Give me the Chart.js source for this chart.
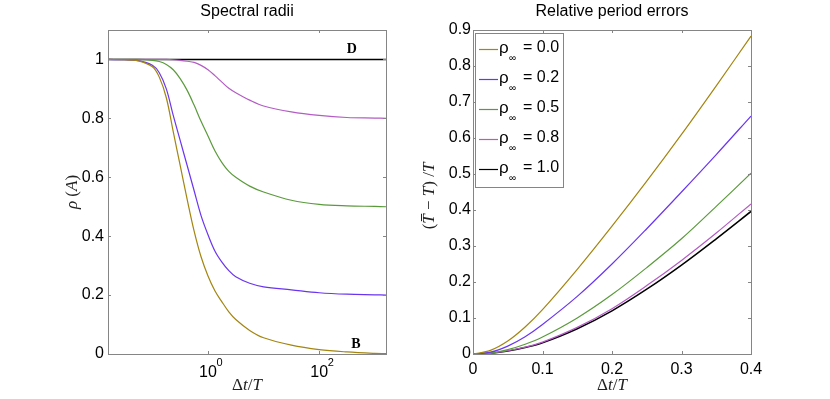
<!DOCTYPE html>
<html>
<head>
<meta charset="utf-8">
<script src="https://cdn.jsdelivr.net/npm/chart.js@4.4.1/dist/chart.umd.min.js"></script>
<style>
  html, body { margin: 0; padding: 0; background: #fff; }
  #wrap { position: relative; width: 830px; height: 399px; }
  .box { position: absolute; top: 0; width: 415px; height: 399px; }
</style>
</head>
<body>
<div id="wrap">
  <div class="box" style="left:0"><canvas id="radii" width="415" height="399"></canvas></div>
  <div class="box" style="left:415px"><canvas id="errors" width="415" height="399"></canvas></div>
</div>
<script>
// legend values and colours
const rhoInf = ['0.0', '0.2', '0.5', '0.8', '1.0'];
const lineColors = ['#a4850f', '#6a35f0', '#5b9a3c', '#b35cc4', '#000000'];

// left panel: spectral radius vs dt/T (log axis)
const radiiSteps = [0.0159, 0.0316, 0.0562, 0.1, 0.133, 0.178, 0.237, 0.316, 0.422, 0.562, 0.75, 1,
  1.33, 1.78, 2.37, 3.16, 5.62, 10, 31.6, 100, 316, 1000, 1592];
const radius00 = [1.0, 0.999, 0.995, 0.975, 0.94, 0.87, 0.755, 0.64, 0.525, 0.418, 0.33, 0.265,
  0.215, 0.177, 0.143, 0.117, 0.08, 0.055, 0.03, 0.015, 0.007, 0.002, 0.001];
const radius02 = [1.0, 0.999, 0.996, 0.98, 0.955, 0.9, 0.81, 0.725, 0.64, 0.555, 0.47, 0.405,
  0.35, 0.312, 0.283, 0.262, 0.24, 0.228, 0.218, 0.208, 0.203, 0.201, 0.2];
const radius05 = [1.0, 1.0, 1.0, 0.997, 0.993, 0.983, 0.965, 0.935, 0.895, 0.845, 0.79, 0.74,
  0.69, 0.65, 0.62, 0.6, 0.57, 0.55, 0.522, 0.508, 0.503, 0.501, 0.5];
const radius08 = [1.0, 1.0, 1.0, 1.0, 1.0, 1.0, 0.999, 0.997, 0.994, 0.99, 0.98, 0.965,
  0.945, 0.923, 0.902, 0.887, 0.862, 0.842, 0.822, 0.81, 0.803, 0.801, 0.8];
const radius10 = [1, 1, 1, 1, 1, 1, 1, 1, 1, 1, 1, 1, 1, 1, 1, 1, 1, 1, 1, 1, 1, 1, 1];
const radiiLimits = [0.0159, 1592];
const radiiTicks = [1, 100];
const radiiExponents = ['0', '2'];
const radiusTicks = [0, 0.2, 0.4, 0.6, 0.8, 1];

// right panel: relative period error vs dt/T
const errSteps = [0, 0.025, 0.05, 0.075, 0.1, 0.15, 0.2, 0.25, 0.3, 0.35, 0.4];
const error00 = [0, 0.01, 0.036, 0.075, 0.123, 0.235, 0.355, 0.48, 0.61, 0.745, 0.883];
const error02 = [0, 0.005, 0.022, 0.048, 0.082, 0.16, 0.25, 0.348, 0.45, 0.554, 0.661];
const error05 = [0, 0.003, 0.012, 0.027, 0.047, 0.1, 0.165, 0.24, 0.32, 0.41, 0.502];
const error08 = [0, 0.002, 0.009, 0.019, 0.033, 0.074, 0.126, 0.19, 0.26, 0.336, 0.417];
const error10 = [0, 0.002, 0.008, 0.018, 0.031, 0.07, 0.12, 0.18, 0.247, 0.32, 0.396];

const sans = 'Liberation Sans, Arial, sans-serif';
const serif = 'Liberation Serif, Times New Roman, serif';

function pts(xs, ys) {
  return xs.map((x, i) => ({ x: x, y: ys[i] }));
}

function makeSets(xs, series, tension) {
  return series.map((ys, i) => ({
    label: '\u03c1\u221e = ' + rhoInf[i],
    data: pts(xs, ys),
    borderColor: lineColors[i],
    borderWidth: i === 4 ? 1.5 : 1.2,
    pointRadius: 0,
    fill: false,
    tension: tension
  }));
}

// draws a row of text pieces with their own fonts, centred on x
function drawRich(ctx, parts, x, y) {
  let w = 0;
  parts.forEach(p => { ctx.font = p.f; w += ctx.measureText(p.t).width; });
  let cx = x - w / 2;
  ctx.textAlign = 'left';
  ctx.textBaseline = 'middle';
  parts.forEach(p => {
    ctx.font = p.f;
    const pw = ctx.measureText(p.t).width;
    ctx.fillText(p.t, cx, y);
    if (p.bar) {
      // overbar for T-bar
      ctx.save();
      ctx.strokeStyle = ctx.fillStyle;
      ctx.lineWidth = 1;
      ctx.beginPath();
      ctx.moveTo(cx + 2.5, y - 8.5);
      ctx.lineTo(cx + pw + 0.5, y - 8.5);
      ctx.stroke();
      ctx.restore();
    }
    cx += pw;
  });
}

const dtOverT = [
  { t: '\u0394', f: '17px ' + serif },
  { t: 't', f: 'italic 17px ' + serif },
  { t: '/', f: '17px ' + serif },
  { t: 'T', f: 'italic 17px ' + serif }
];

// per-panel texts (kept out of chart options so they are not treated as scriptable)
const panels = {
  radii: {
    title: 'Spectral radii',
    yTitleGap: 35,
    yTitleShift: 0,
    yTitle: [
      { t: '\u03c1', f: 'italic 17px ' + serif },
      { t: ' (', f: '17px ' + serif },
      { t: 'A', f: 'italic 17px ' + serif },
      { t: ')', f: '17px ' + serif }
    ],
    after(chart, ctx) {
      const xs = chart.scales.x, ys = chart.scales.y;
      const a = chart.chartArea;
      // exponents of the 10^n tick labels
      ctx.fillStyle = '#000';
      ctx.textAlign = 'left';
      ctx.textBaseline = 'middle';
      ctx.font = '11px ' + sans;
      radiiTicks.forEach((v, i) => {
        ctx.fillText(radiiExponents[i], xs.getPixelForValue(v) + 8.5, a.bottom + 9);
      });
      ctx.font = 'bold 14px ' + serif;
      ctx.textAlign = 'center';
      ctx.fillText('D', xs.getPixelForValue(386), ys.getPixelForValue(1.034));
      ctx.fillText('B', xs.getPixelForValue(460), ys.getPixelForValue(0.034));
    }
  },
  errors: {
    title: 'Relative period errors',
    yTitleGap: 43,
    yTitleShift: 4,
    yTitle: [
      { t: '(', f: '17px ' + serif },
      { t: 'T', f: 'italic 17px ' + serif, bar: true },
      { t: ' \u2212 ', f: '17px ' + serif },
      { t: 'T', f: 'italic 17px ' + serif },
      { t: ') /', f: '17px ' + serif },
      { t: 'T', f: 'italic 17px ' + serif }
    ],
    after(chart, ctx) {
      // legend box with subscripted rho
      const a = chart.chartArea;
      const lx = a.left + 2, ly = a.top + 3, lw = 88, lh = 154;
      ctx.fillStyle = '#fff';
      ctx.fillRect(lx, ly, lw, lh);
      ctx.strokeStyle = '#858585';
      ctx.lineWidth = 1;
      ctx.strokeRect(lx + 0.5, ly + 0.5, lw, lh);
      chart.data.datasets.forEach((d, i) => {
        const cy = ly + 14 + i * 30;
        ctx.strokeStyle = d.borderColor;
        ctx.lineWidth = 1.2;
        ctx.beginPath();
        ctx.moveTo(lx + 4, cy + 2.5);
        ctx.lineTo(lx + 23, cy + 2.5);
        ctx.stroke();
        ctx.fillStyle = '#000';
        ctx.textAlign = 'left';
        ctx.textBaseline = 'middle';
        ctx.font = '17px ' + sans;
        ctx.fillText('\u03c1', lx + 24, cy + 1);
        ctx.font = '10px ' + sans;
        ctx.fillText('\u221e', lx + 34, cy + 11);
        ctx.font = '16px ' + sans;
        ctx.fillText('= ' + rhoInf[i], lx + 48, cy + 1);
      });
    }
  }
};

// box with inward tick marks on all four sides, like matlab
const matlabBox = {
  id: 'matlabBox',
  afterDatasetsDraw(chart) {
    const ctx = chart.ctx;
    const a = chart.chartArea;
    const xs = chart.scales.x, ys = chart.scales.y;
    const len = 3;
    ctx.save();
    ctx.strokeStyle = '#858585';
    ctx.lineWidth = 1;
    ctx.strokeRect(Math.round(a.left) + 0.5, Math.round(a.top) + 0.5,
      Math.round(a.right - a.left), Math.round(a.bottom - a.top));
    ctx.beginPath();
    xs.ticks.forEach(t => {
      const p = Math.round(xs.getPixelForValue(t.value)) + 0.5;
      ctx.moveTo(p, a.bottom); ctx.lineTo(p, a.bottom - len);
      ctx.moveTo(p, a.top); ctx.lineTo(p, a.top + len);
    });
    ys.ticks.forEach(t => {
      const p = Math.round(ys.getPixelForValue(t.value)) + 0.5;
      ctx.moveTo(a.left, p); ctx.lineTo(a.left + len, p);
      ctx.moveTo(a.right, p); ctx.lineTo(a.right - len, p);
    });
    ctx.stroke();

    const o = panels[chart.canvas.id];
    const mid = (a.left + a.right) / 2;
    ctx.fillStyle = '#000';
    ctx.font = '16px ' + sans;
    ctx.textAlign = 'center';
    ctx.textBaseline = 'middle';
    ctx.fillText(o.title, mid, 12);

    ctx.fillStyle = '#222';
    drawRich(ctx, dtOverT, mid, 386);

    ctx.save();
    ctx.translate(a.left - o.yTitleGap, (a.top + a.bottom) / 2 + o.yTitleShift);
    ctx.rotate(-Math.PI / 2);
    drawRich(ctx, o.yTitle, 0, 0);
    ctx.restore();

    o.after(chart, ctx);
    ctx.restore();
  }
};

const tickFont = { family: sans, size: 16 };
const plainNum = (v) => String(+Number(v).toFixed(2));

new Chart(document.getElementById('radii'), {
  type: 'line',
  data: { datasets: makeSets(radiiSteps, [radius00, radius02, radius05, radius08, radius10], 0.35) },
  plugins: [matlabBox],
  options: {
    responsive: false,
    animation: false,
    layout: { padding: { top: 30, right: 29, left: 0, bottom: 0 } },
    plugins: { legend: { display: false }, tooltip: { enabled: false } },
    scales: {
      x: {
        type: 'logarithmic',
        min: radiiLimits[0],
        max: radiiLimits[1],
        afterFit(s) { s.height = 45; },
        afterBuildTicks(s) { s.ticks = radiiTicks.map(v => ({ value: v })); },
        grid: { display: false, drawTicks: false },
        border: { display: false },
        ticks: {
          color: '#000', font: tickFont, padding: 9, maxRotation: 0,
          callback: () => '10'
        }
      },
      y: {
        min: 0,
        max: 1.1,
        afterFit(s) { s.width = 108; },
        afterBuildTicks(s) { s.ticks = radiusTicks.map(v => ({ value: v })); },
        grid: { display: false, drawTicks: false },
        border: { display: false },
        ticks: { color: '#000', font: tickFont, padding: 4, callback: plainNum }
      }
    }
  }
});

new Chart(document.getElementById('errors'), {
  type: 'line',
  data: { datasets: makeSets(errSteps, [error00, error02, error05, error08, error10], 0.35) },
  plugins: [matlabBox],
  options: {
    responsive: false,
    animation: false,
    layout: { padding: { top: 30, right: 79, left: 0, bottom: 0 } },
    plugins: { legend: { display: false }, tooltip: { enabled: false } },
    scales: {
      x: {
        type: 'linear',
        min: 0,
        max: 0.4,
        afterFit(s) { s.height = 45; },
        grid: { display: false, drawTicks: false },
        border: { display: false },
        ticks: { color: '#000', font: tickFont, padding: 6, stepSize: 0.1, maxRotation: 0, callback: plainNum }
      },
      y: {
        min: 0,
        max: 0.9,
        afterFit(s) { s.width = 58; },
        grid: { display: false, drawTicks: false },
        border: { display: false },
        ticks: { color: '#000', font: tickFont, padding: 2, stepSize: 0.1, callback: plainNum }
      }
    }
  }
});
</script>
</body>
</html>
